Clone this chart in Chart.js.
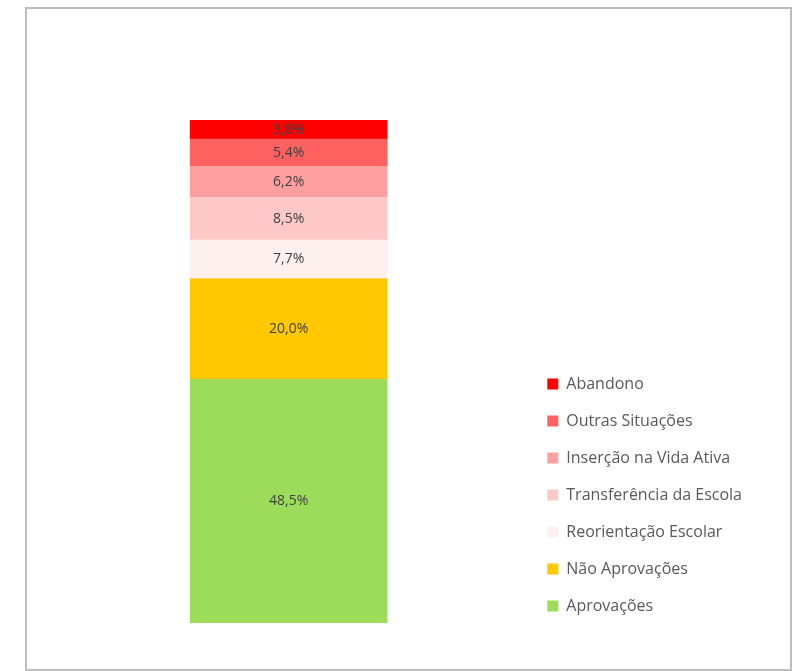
<!DOCTYPE html>
<html lang="pt">
  <head>
    <meta charset="UTF-8">
    <title>Situação dos alunos</title>
    <script src="https://cdn.jsdelivr.net/npm/chart.js"></script>
    <style>
      body { margin: 0; background: #fff; }
      #wrap { position: absolute; left: 25px; top: 7px; width: 763px; height: 660px; border: 2px solid #bdbdbd; }
      #chart { position: absolute; left: 0; top: 0; }
    </style>
  </head>
  <body>
  <div id="wrap"><canvas id="chart" width="763" height="660"></canvas></div>
    <script>
    const categories = [''];
    const seriesNames = ['Aprovações', 'Não Aprovações', 'Reorientação Escolar', 'Transferência da Escola', 'Inserção na Vida Ativa', 'Outras Situações', 'Abandono'];
    const seriesValues = [48.5, 20.0, 7.7, 8.5, 6.2, 5.4, 3.8];
    const seriesColors = ['#9ddc5a', '#ffc800', '#fff0f0', '#ffc8c8', '#ff9f9f', '#ff6060', '#ff0000'];

    // writes each value in the middle of its segment
    const segLabels = {
      id: 'segLabels',
      afterDatasetsDraw(chart) {
        const ctx = chart.ctx;
        ctx.save();
        ctx.font = '14px "Open Sans", sans-serif';
        ctx.fillStyle = '#404040';
        ctx.textAlign = 'center';
        ctx.textBaseline = 'middle';
        chart.data.datasets.forEach((ds, i) => {
          chart.getDatasetMeta(i).data.forEach((bar, j) => {
            const v = ds.data[j];
            ctx.fillText(v.toFixed(1).replace('.', ',') + '%', bar.x, (bar.y + bar.base) / 2);
          });
        });
        ctx.restore();
      }
    };

    // the legend sits a bit lower than the plot bottom
    const legendDrop = {
      id: 'legendDrop',
      afterLayout(chart) {
        if (chart.legend) {
          chart.legend.top += 12;
          chart.legend.bottom += 12;
        }
      }
    };

    const ctx = document.getElementById('chart').getContext('2d');
    new Chart(ctx, {
      type: 'bar',
      data: {
        labels: categories,
        datasets: seriesNames.map((name, i) => ({
          label: name,
          data: [seriesValues[i]],
          backgroundColor: seriesColors[i],
          barThickness: 197,
        }))
      },
      options: {
        responsive: false,
        animation: false,
        layout: { padding: { left: 24, right: 38, top: 111, bottom: 46 } },
        scales: {
          x: { stacked: true, display: false },
          y: { stacked: true, display: false, min: 0, max: 100.1 }
        },
        plugins: {
          tooltip: { enabled: false },
          legend: {
            position: 'right',
            align: 'end',
            reverse: true,
            labels: {
              boxWidth: 11,
              boxHeight: 11,
              padding: 21,
              color: '#595959',
              font: { family: '"Open Sans", sans-serif', size: 16 }
            }
          }
        }
      },
      plugins: [segLabels, legendDrop]
    });
    </script>
  </body>
</html>
